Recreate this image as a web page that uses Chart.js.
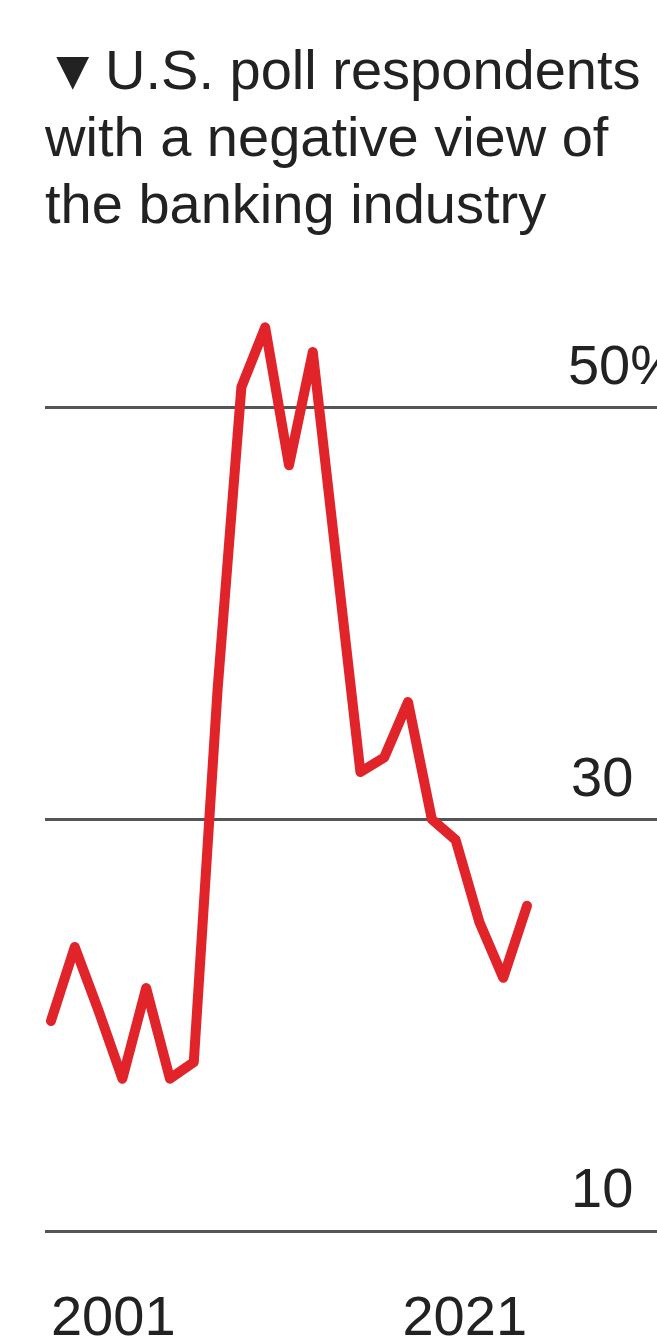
<!DOCTYPE html>
<html>
<head>
<meta charset="utf-8">
<script src="https://cdn.jsdelivr.net/npm/chart.js@4/dist/chart.umd.min.js"></script>
<style>
  html, body { margin: 0; padding: 0; background: #fff; }
  canvas { display: block; }
</style>
</head>
<body>
<canvas id="chart" width="657" height="1336"></canvas>
<script>
// Negative view of the banking industry, % of respondents
const years = [2001, 2002, 2003, 2004, 2005, 2006, 2007, 2008, 2009, 2010, 2011,
  2012, 2013, 2014, 2015, 2016, 2017, 2018, 2019, 2020, 2021];
const negativeView = [20.2, 23.8, 20.7, 17.4, 21.8, 17.4, 18.2, 36.3, 51, 53.9, 47.2,
  52.7, 42.5, 32.3, 33, 35.7, 30, 29, 25, 22.3, 25.8];

const xTickYears = [2001, 2021];
const yTickValues = [10, 30, 50];
const yTickLabels = ["10", "30", "50%"];

const titleLines = [
  "▼\u200AU.S. poll respondents",
  "with a negative view of",
  "the banking industry",
];

const fontFamily = "'Liberation Sans', Arial, Helvetica, sans-serif";
const textColor = "#222";

const points = years.map((y, i) => ({ x: y, y: negativeView[i] }));

const ctx = document.getElementById("chart").getContext("2d");

new Chart(ctx, {
  type: "line",
  data: {
    datasets: [
      {
        data: points,
        borderColor: "#e1232a",
        borderWidth: 10,
        borderJoinStyle: "round",
        borderCapStyle: "round",
        pointRadius: 0,
        tension: 0,
        clip: false,
      },
    ],
  },
  options: {
    responsive: false,
    animation: false,
    devicePixelRatio: 1,
    layout: {
      padding: { left: 45, right: 0, top: 0, bottom: 0 },
    },
    plugins: {
      legend: { display: false },
      tooltip: { enabled: false },
      title: {
        display: true,
        text: titleLines,
        align: "start",
        color: textColor,
        font: { family: fontFamily, size: 56, weight: "normal", lineHeight: 1.2 },
        padding: { top: 40, bottom: 38 },
      },
    },
    scales: {
      x: {
        type: "linear",
        min: 2000.75,
        max: 2026.46,
        position: "bottom",
        grid: { display: false, drawTicks: false },
        border: { display: false },
        afterBuildTicks: (scale) => {
          scale.ticks = xTickYears.map((v) => ({ value: v }));
        },
        afterFit: (scale) => {
          scale.height = 105;
          scale.paddingLeft = 0;
          scale.paddingRight = 0;
        },
        ticks: {
          autoSkip: false,
          maxRotation: 0,
          align: "inner",
          padding: 55,
          color: textColor,
          font: { family: fontFamily, size: 56, lineHeight: 1.2 },
          callback: (v) => String(v),
        },
      },
      y: {
        type: "linear",
        min: 10,
        max: 56.22,
        position: "right",
        grid: { color: "#555", lineWidth: 3, drawTicks: false },
        border: { display: false },
        afterBuildTicks: (scale) => {
          scale.ticks = yTickValues.map((v) => ({ value: v }));
        },
        afterFit: (scale) => {
          scale.width = 0;
        },
        ticks: {
          mirror: true,
          padding: 23,
          labelOffset: -39,
          color: textColor,
          font: { family: fontFamily, size: 56, lineHeight: 1.2 },
          callback: (v) => {
            const label = yTickLabels[yTickValues.indexOf(v)];
            // the % sign hangs past the numbers, so pad the others
            return label.endsWith("%") ? label : label + "   ";
          },
        },
      },
    },
  },
});
</script>
</body>
</html>
